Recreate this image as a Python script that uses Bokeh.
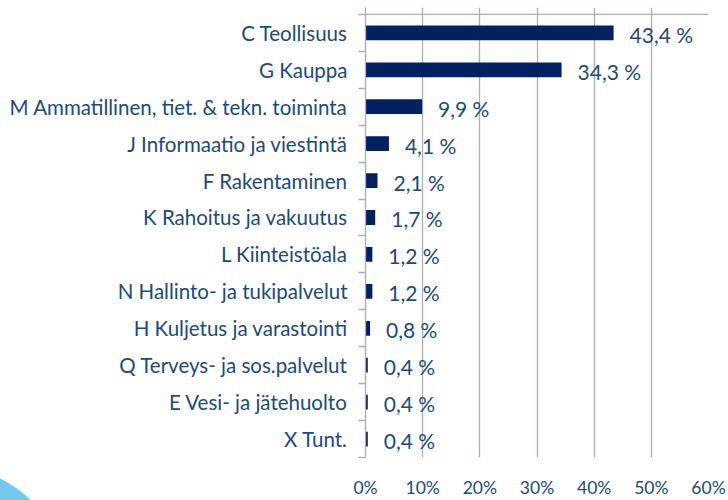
from bokeh.plotting import figure
from bokeh.models import (ColumnDataSource, FixedTicker, LinearAxis, Range1d,
                          Grid, Span, InlineStyleSheet)
from bokeh.core.properties import value
from bokeh.embed import file_html
from bokeh.resources import INLINE

categories = [
    "C Teollisuus",
    "G Kauppa",
    "M Ammatillinen, tiet. & tekn. toiminta",
    "J Informaatio ja viestintä",
    "F Rakentaminen",
    "K Rahoitus ja vakuutus",
    "L Kiinteistöala",
    "N Hallinto- ja tukipalvelut",
    "H Kuljetus ja varastointi",
    "Q Terveys- ja sos.palvelut",
    "E Vesi- ja jätehuolto",
    "X Tunt.",
]
values = [43.4, 34.3, 9.9, 4.1, 2.1, 1.7, 1.2, 1.2, 0.8, 0.4, 0.4, 0.4]
x_ticks = [0, 10, 20, 30, 40, 50, 60]
x_tick_labels = ["0%", "10%", "20%", "30%", "40%", "50%", "60%"]

FONT = "Lato"
TEXT_C = "#1A4A80"
BAR_C = "#022160"
GRID_C = "#A9ACC6"

n = len(categories)
ys = [n - 0.5 - i for i in range(n)]
labels = [f"{v:.1f}".replace(".", ",") + " %" for v in values]

src = ColumnDataSource(dict(y=ys, v=values, lab=labels, cat=categories))

# decorative light-blue disc peeking in at the lower-left corner (page background)
bg_css = InlineStyleSheet(css=""":host {
  background: radial-gradient(circle 126px at -56px 591px, #72C9EB 125px, #ffffff 126.5px);
}""")

p = figure(width=728, height=500, output_backend="svg", toolbar_location=None,
           x_range=Range1d(0, 60), y_range=Range1d(0, n + 0.187),
           x_axis_location=None, y_axis_location=None,
           min_border_left=365, min_border_right=20,
           min_border_top=7, min_border_bottom=37,
           stylesheets=[bg_css])
p.outline_line_color = None
p.border_fill_color = None
p.background_fill_color = None
p.grid.visible = False

xticker = FixedTicker(ticks=x_ticks)
p.add_layout(Grid(dimension=0, ticker=xticker, grid_line_color=GRID_C,
                  grid_line_width=1.3))

# top value-axis line
p.add_layout(Span(location=n, dimension="width", line_color=GRID_C, line_width=1.3))

# bottom axis: labels only
bottom = LinearAxis(ticker=xticker,
                    major_label_overrides={t: l for t, l in zip(x_ticks, x_tick_labels)},
                    axis_line_color=None, major_tick_line_color=None,
                    minor_tick_line_color=None, major_tick_out=0, major_tick_in=0,
                    major_label_standoff=19,
                    major_label_text_font=FONT, major_label_text_font_size="17.5px",
                    major_label_text_color=TEXT_C)
p.add_layout(bottom, "below")

# left axis: category labels at centers, ticks at boundaries
left = LinearAxis(ticker=FixedTicker(ticks=ys, minor_ticks=list(range(n + 1))),
                  major_label_overrides={y: c for y, c in zip(ys, categories)},
                  axis_line_color=GRID_C, axis_line_width=1.3,
                  major_tick_line_color=None, major_tick_out=0, major_tick_in=0,
                  minor_tick_line_color=GRID_C, minor_tick_out=7, minor_tick_in=0,
                  minor_tick_line_width=1.3,
                  major_label_standoff=11,
                  major_label_text_font=FONT, major_label_text_font_size="20.5px",
                  major_label_text_color=TEXT_C)
p.add_layout(left, "left")

p.hbar(y="y", left=0, right="v", height=0.4, source=src,
       fill_color=BAR_C, line_color=None)

p.text(x="v", y="y", text="lab", source=src, x_offset=16, y_offset=1.5,
       text_baseline="middle", text_align="left",
       text_font=value(FONT), text_font_size="21px", text_color=TEXT_C)

open("out.html", "w").write(file_html(p, INLINE))
